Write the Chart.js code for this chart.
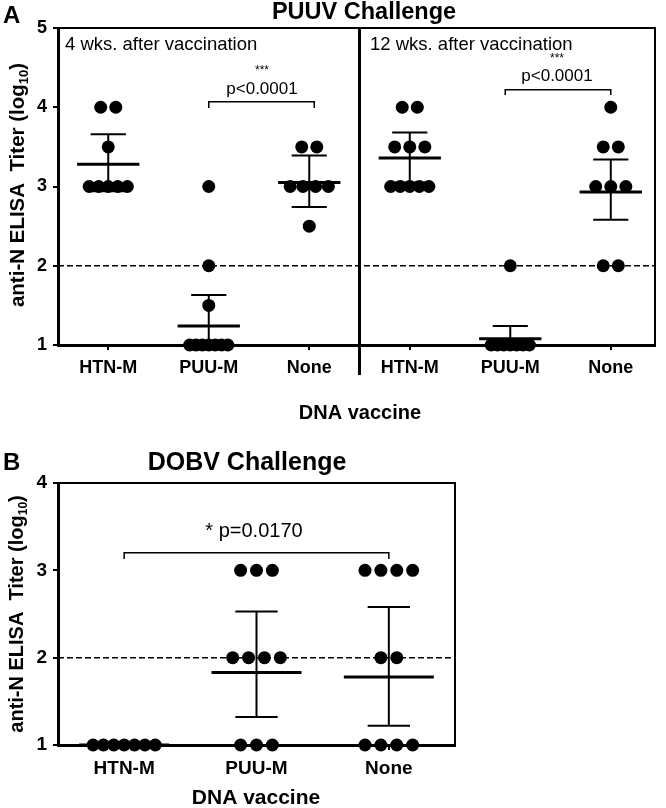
<!DOCTYPE html>
<html>
<head>
<meta charset="utf-8">
<script src="https://cdn.jsdelivr.net/npm/chart.js@4.4.1/dist/chart.umd.min.js"></script>
<style>
  html, body { margin: 0; padding: 0; background: #fff; }
  #wrap { position: relative; width: 666px; height: 808px; }
  #boxA { position: absolute; left: 0; top: 0; }
  #boxB { position: absolute; left: 0; top: 425px; }
</style>
</head>
<body>
<div id="wrap">
  <div id="boxA"><canvas id="chartA" width="666" height="425"></canvas></div>
  <div id="boxB"><canvas id="chartB" width="666" height="383"></canvas></div>
</div>
<script>
const FONT = "'Liberation Sans', Arial, Helvetica, sans-serif";

const categories = ['HTN-M', 'PUU-M', 'None'];
const yTicksA = [1, 2, 3, 4, 5];
const yTicksB = [1, 2, 3, 4];
const cutoff = 2;

// PUUV challenge, 4 wks after vaccination
const puuv4HTN = [4, 4, 3.5, 3, 3, 3, 3, 3];
const puuv4PUU = [3, 2, 1.5, 1, 1, 1, 1, 1, 1, 1];
const puuv4None = [3.5, 3.5, 3, 3, 3, 3, 2.5];
const puuv4Mean = [3.28, 1.24, 3.05];
const puuv4Upper = [3.66, 1.63, 3.39];
const puuv4Lower = [2.94, 0.85, 2.74];

// PUUV challenge, 12 wks after vaccination
const puuv12HTN = [4, 4, 3.5, 3.5, 3.5, 3, 3, 3, 3, 3];
const puuv12PUU = [2, 1, 1, 1, 1, 1, 1, 1];
const puuv12None = [4, 3.5, 3.5, 3, 3, 3, 2, 2];
const puuv12Mean = [3.36, 1.08, 2.93];
const puuv12Upper = [3.68, 1.24, 3.34];
const puuv12Lower = [3.05, 0.92, 2.58];

// DOBV challenge
const dobvHTN = [1, 1, 1, 1, 1, 1, 1];
const dobvPUU = [3, 3, 3, 2, 2, 2, 2, 1, 1, 1];
const dobvNone = [3, 3, 3, 3, 2, 2, 1, 1, 1, 1];
const dobvMean = [1, 1.83, 1.78];
const dobvUpper = [1, 2.53, 2.58];
const dobvLower = [1, 1.32, 1.22];

Chart.defaults.font.family = FONT;
Chart.defaults.color = '#000';

// spread equal values side by side, like a scatter dot plot
function spread(values, cat, step, maxW) {
  const counts = {};
  values.forEach(v => counts[v] = (counts[v] || 0) + 1);
  const seen = {};
  return values.map(v => {
    const n = counts[v];
    const k = seen[v] = (seen[v] === undefined ? 0 : seen[v] + 1);
    const sp = n > 1 ? Math.min(step, maxW / (n - 1)) : 0;
    return { x: cat + (k - (n - 1) / 2) * sp, y: v };
  });
}

function dotSet(points, r) {
  return {
    data: points,
    backgroundColor: '#000',
    borderWidth: 0,
    pointRadius: r,
    pointHoverRadius: r,
    clip: false
  };
}

function makeGroups(xs, mean, upper, lower) {
  return xs.map((x, i) => ({ x: x, mean: mean[i], up: upper[i], lo: lower[i] }));
}

function seg(ctx, x1, y1, x2, y2) {
  ctx.beginPath();
  ctx.moveTo(x1, y1);
  ctx.lineTo(x2, y2);
  ctx.stroke();
}

function drawYTitle(ctx, cx, cy, size) {
  const main = 'anti-N ELISA  Titer (log', sub = '10', end = ')';
  const f1 = 'bold ' + size + 'px ' + FONT;
  const f2 = 'bold ' + Math.round(size * 0.62) + 'px ' + FONT;
  ctx.save();
  ctx.translate(cx, cy);
  ctx.rotate(-Math.PI / 2);
  ctx.fillStyle = '#000';
  ctx.textAlign = 'left';
  ctx.textBaseline = 'middle';
  ctx.font = f1;
  const w1 = ctx.measureText(main).width, w3 = ctx.measureText(end).width;
  ctx.font = f2;
  const w2 = ctx.measureText(sub).width;
  const x0 = -(w1 + w2 + w3) / 2;
  ctx.font = f1; ctx.fillText(main, x0, 0);
  ctx.font = f2; ctx.fillText(sub, x0 + w1, size * 0.32);
  ctx.font = f1; ctx.fillText(end, x0 + w1 + w2, 0);
  ctx.restore();
}

function decoPlugin(cfg) {
  return {
    id: 'deco',
    beforeDatasetsDraw(chart) {
      const { ctx, chartArea: a } = chart;
      const x = chart.scales.x, y = chart.scales.y;
      ctx.save();
      ctx.strokeStyle = '#000';
      // cutoff line
      const yc = y.getPixelForValue(cutoff);
      ctx.lineWidth = 1.5;
      ctx.setLineDash([6, 3]);
      seg(ctx, a.left, yc, a.right, yc);
      ctx.setLineDash([]);
      // top and right frame
      ctx.lineWidth = 2;
      ctx.beginPath();
      ctx.moveTo(a.left, a.top);
      ctx.lineTo(a.right, a.top);
      ctx.lineTo(a.right, a.bottom);
      ctx.stroke();
      if (cfg.divider !== undefined) {
        const xd = x.getPixelForValue(cfg.divider);
        ctx.lineWidth = 3;
        seg(ctx, xd, a.top, xd, a.bottom + 30);
      }
      ctx.restore();
    },
    afterDatasetsDraw(chart) {
      const { ctx, chartArea: a } = chart;
      const x = chart.scales.x, y = chart.scales.y;
      ctx.save();
      ctx.strokeStyle = '#000';
      cfg.groups.forEach(g => {
        const xp = x.getPixelForValue(g.x);
        const mw = x.getPixelForValue(g.x + cfg.meanHalf) - xp;
        const cw = x.getPixelForValue(g.x + cfg.capHalf) - xp;
        const ym = y.getPixelForValue(g.mean);
        const yu = y.getPixelForValue(g.up);
        const yl = Math.min(y.getPixelForValue(g.lo), a.bottom);
        ctx.lineWidth = 2;
        seg(ctx, xp, yu, xp, yl);
        seg(ctx, xp - cw, yu, xp + cw, yu);
        if (g.lo >= y.min) seg(ctx, xp - cw, yl, xp + cw, yl);
        ctx.lineWidth = 3;
        seg(ctx, xp - mw, ym, xp + mw, ym);
      });
      ctx.restore();
    },
    afterDraw(chart) {
      const ctx = chart.ctx;
      const x = chart.scales.x, y = chart.scales.y;
      ctx.save();
      ctx.strokeStyle = '#000';
      ctx.lineWidth = 1.5;
      cfg.brackets.forEach(b => {
        const x1 = x.getPixelForValue(b.x1), x2 = x.getPixelForValue(b.x2);
        const yt = y.getPixelForValue(b.y), yb = y.getPixelForValue(b.y - b.drop);
        ctx.beginPath();
        ctx.moveTo(x1, yb);
        ctx.lineTo(x1, yt);
        ctx.lineTo(x2, yt);
        ctx.lineTo(x2, yb);
        ctx.stroke();
      });
      ctx.fillStyle = '#000';
      ctx.textBaseline = 'middle';
      cfg.texts.forEach(t => {
        ctx.font = (t.bold ? 'bold ' : '') + t.size + 'px ' + FONT;
        ctx.textAlign = t.align || 'center';
        ctx.fillText(t.text, t.x, t.y);
      });
      drawYTitle(ctx, cfg.yTitle.x, cfg.yTitle.y, cfg.yTitle.size);
      ctx.restore();
    }
  };
}

function axes(xMax, tickVals, yMin, yMax, yTicks, xHeight, fontSize) {
  return {
    x: {
      type: 'linear', min: -0.5, max: xMax,
      afterBuildTicks: s => { s.ticks = tickVals.map(v => ({ value: v })); },
      afterFit: s => { s.height = xHeight; },
      grid: { drawOnChartArea: false, drawTicks: true, tickLength: 5, color: '#000', lineWidth: 2 },
      border: { display: true, color: '#000', width: 3 },
      ticks: {
        callback: v => categories[v % 3],
        font: { size: fontSize, weight: 'bold' }, color: '#000',
        padding: 7, autoSkip: false, maxRotation: 0
      }
    },
    y: {
      min: yMin, max: yMax,
      afterBuildTicks: s => { s.ticks = yTicks.map(v => ({ value: v })); },
      afterFit: s => { s.width = 58; },
      grid: { drawOnChartArea: false, drawTicks: true, tickLength: 5, color: '#000', lineWidth: 2 },
      border: { display: true, color: '#000', width: 3 },
      ticks: { font: { size: fontSize, weight: 'bold' }, color: '#000', padding: 6 }
    }
  };
}

// ---- panel A: PUUV challenge ----
const stepA = 0.15, maxA = 0.38, rA = 6.5;
new Chart(document.getElementById('chartA'), {
  type: 'scatter',
  data: {
    datasets: [
      dotSet(spread(puuv4HTN, 0, stepA, maxA), rA),
      dotSet(spread(puuv4PUU, 1, stepA, maxA), rA),
      dotSet(spread(puuv4None, 2, stepA, maxA), rA),
      dotSet(spread(puuv12HTN, 3, stepA, maxA), rA),
      dotSet(spread(puuv12PUU, 4, stepA, maxA), rA),
      dotSet(spread(puuv12None, 5, stepA, maxA), rA)
    ]
  },
  options: {
    responsive: false,
    animation: false,
    events: [],
    layout: { padding: { top: 28, right: 11, left: 0, bottom: 0 } },
    plugins: { legend: { display: false }, tooltip: { enabled: false } },
    scales: axes(5.44, [0, 1, 2, 3, 4, 5], 1, 5, yTicksA, 80, 18)
  },
  plugins: [decoPlugin({
    divider: 2.5,
    meanHalf: 0.31, capHalf: 0.175,
    groups: makeGroups([0, 1, 2], puuv4Mean, puuv4Upper, puuv4Lower)
      .concat(makeGroups([3, 4, 5], puuv12Mean, puuv12Upper, puuv12Lower)),
    brackets: [
      { x1: 1, x2: 2.05, y: 4.07, drop: 0.08 },
      { x1: 3.95, x2: 5, y: 4.22, drop: 0.065 }
    ],
    texts: [
      { text: 'A', x: 3, y: 16, size: 24, bold: true, align: 'left' },
      { text: 'PUUV Challenge', x: 364, y: 13, size: 23.5, bold: true },
      { text: '4 wks. after vaccination', x: 65, y: 45, size: 18.5, align: 'left' },
      { text: '12 wks. after vaccination', x: 370, y: 45, size: 18.5, align: 'left' },
      { text: '***', x: 262, y: 71, size: 12 },
      { text: 'p<0.0001', x: 262, y: 89, size: 17 },
      { text: '***', x: 557, y: 59, size: 12 },
      { text: 'p<0.0001', x: 557, y: 76, size: 17 },
      { text: 'DNA vaccine', x: 360, y: 413, size: 20, bold: true }
    ],
    yTitle: { x: 18, y: 185, size: 20.5 }
  })]
});

// ---- panel B: DOBV challenge ----
const stepB = 0.12, maxB = 0.47, rB = 6.5;
new Chart(document.getElementById('chartB'), {
  type: 'scatter',
  data: {
    datasets: [
      dotSet(spread(dobvHTN, 0, stepB, maxB), rB),
      dotSet(spread(dobvPUU, 1, stepB, maxB), rB),
      dotSet(spread(dobvNone, 2, stepB, maxB), rB)
    ]
  },
  options: {
    responsive: false,
    animation: false,
    events: [],
    layout: { padding: { top: 58, right: 211, left: 0, bottom: 0 } },
    plugins: { legend: { display: false }, tooltip: { enabled: false } },
    scales: axes(2.5, [0, 1, 2], 1, 4, yTicksB, 63, 19)
  },
  plugins: [decoPlugin({
    meanHalf: 0.34, capHalf: 0.16,
    groups: makeGroups([0, 1, 2], dobvMean, dobvUpper, dobvLower),
    brackets: [
      { x1: 0, x2: 2, y: 3.2, drop: 0.07 }
    ],
    texts: [
      { text: 'B', x: 3, y: 38, size: 24, bold: true, align: 'left' },
      { text: 'DOBV Challenge', x: 247, y: 38, size: 25, bold: true },
      { text: '* p=0.0170', x: 254, y: 106, size: 20 },
      { text: 'DNA vaccine', x: 256, y: 373, size: 21, bold: true }
    ],
    yTitle: { x: 17, y: 189, size: 20 }
  })]
});
</script>
</body>
</html>
